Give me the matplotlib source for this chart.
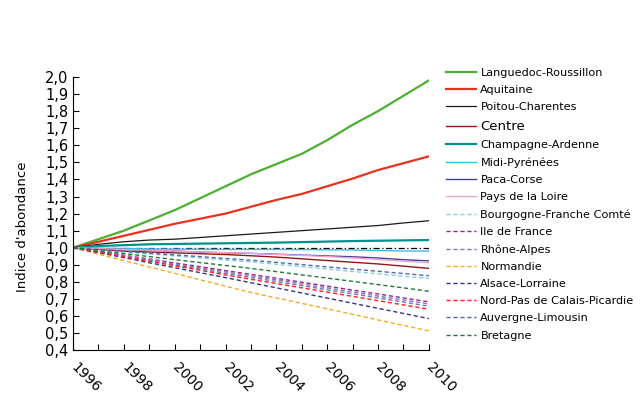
import matplotlib
matplotlib.use('Agg')
import matplotlib.pyplot as plt
import numpy as np

years = list(range(1996, 2011))

# series solides
languedoc = [1.00, 1.05, 1.10, 1.16, 1.22, 1.29, 1.36, 1.43, 1.49, 1.55, 1.63, 1.72, 1.80, 1.89, 1.98]
aquitaine = [1.00, 1.035, 1.07, 1.105, 1.14, 1.17, 1.20, 1.24, 1.28, 1.315, 1.36, 1.405, 1.455, 1.495, 1.535]
poitou = [1.00, 1.02, 1.035, 1.045, 1.05, 1.06, 1.07, 1.08, 1.09, 1.10, 1.11, 1.12, 1.13, 1.145, 1.158]
centre = [1.00, 0.99, 0.98, 0.975, 0.97, 0.965, 0.96, 0.953, 0.945, 0.935, 0.925, 0.915, 0.905, 0.892, 0.879]
champagne = [1.00, 1.01, 1.015, 1.02, 1.022, 1.024, 1.026, 1.028, 1.03, 1.033, 1.036, 1.039, 1.041, 1.043, 1.045]
midi_pyr = [1.00, 0.997, 0.995, 0.993, 0.992, 0.991, 0.99, 0.99, 0.99, 0.989, 0.988, 0.987, 0.984, 0.981, 0.98]
paca = [1.00, 0.995, 0.99, 0.985, 0.98, 0.975, 0.97, 0.967, 0.962, 0.957, 0.952, 0.947, 0.94, 0.93, 0.923]
loire = [1.00, 0.995, 0.99, 0.985, 0.98, 0.975, 0.971, 0.967, 0.961, 0.955, 0.948, 0.94, 0.931, 0.921, 0.912]
# series pointillees
bourgogne = [1.00, 0.988, 0.976, 0.964, 0.952, 0.94, 0.928, 0.917, 0.903, 0.889, 0.875, 0.861, 0.847, 0.833, 0.82]
idf = [1.00, 0.978, 0.956, 0.934, 0.911, 0.889, 0.866, 0.844, 0.821, 0.798, 0.775, 0.752, 0.729, 0.706, 0.683]
rhone = [1.00, 0.977, 0.954, 0.93, 0.906, 0.883, 0.859, 0.836, 0.812, 0.788, 0.765, 0.741, 0.717, 0.694, 0.67]
normandie = [1.00, 0.962, 0.925, 0.887, 0.85, 0.812, 0.775, 0.738, 0.706, 0.674, 0.642, 0.61, 0.577, 0.545, 0.513]
alsace = [1.00, 0.971, 0.942, 0.912, 0.883, 0.854, 0.825, 0.795, 0.765, 0.735, 0.705, 0.675, 0.645, 0.615, 0.585]
nord = [1.00, 0.974, 0.947, 0.92, 0.894, 0.868, 0.841, 0.815, 0.79, 0.765, 0.74, 0.715, 0.69, 0.665, 0.64]
auvergne = [1.00, 0.99, 0.979, 0.968, 0.958, 0.948, 0.937, 0.927, 0.914, 0.901, 0.888, 0.875, 0.862, 0.849, 0.836]
bretagne = [1.00, 0.983, 0.966, 0.948, 0.93, 0.913, 0.896, 0.879, 0.86, 0.841, 0.822, 0.803, 0.784, 0.765, 0.745]
autre = [1.00, 0.975, 0.95, 0.925, 0.9, 0.875, 0.85, 0.826, 0.802, 0.778, 0.754, 0.73, 0.706, 0.682, 0.657]
reference = 1.0

series = [
  ('Languedoc-Roussillon', languedoc, '#4caf32', '-', 1.6),
  ('Aquitaine', aquitaine, '#e8321e', '-', 1.6),
  ('Poitou-Charentes', poitou, '#1a1a1a', '-', 0.9),
  ('Centre', centre, '#8b1a1a', '-', 1.0),
  ('Champagne-Ardenne', champagne, '#00928c', '-', 1.6),
  ('Midi-Pyrénées', midi_pyr, '#3dbbec', '-', 1.0),
  ('Paca-Corse', paca, '#40409c', '-', 1.0),
  ('Pays de la Loire', loire, '#f2a6c6', '-', 1.0),
  ('Bourgogne-Franche Comté', bourgogne, '#86cfe6', '--', 1.0),
  ('Ile de France', idf, '#a0208f', '--', 1.0),
  ('Rhône-Alpes', rhone, '#8e72c0', '--', 1.0),
  ('Normandie', normandie, '#f8a822', '--', 1.0),
  ('Alsace-Lorraine', alsace, '#34348c', '--', 1.0),
  ('Nord-Pas de Calais-Picardie', nord, '#ff2020', '--', 1.0),
  ('Auvergne-Limousin', auvergne, '#5068b4', '--', 1.0),
  ('Bretagne', bretagne, '#1e7b34', '--', 1.0),
]

fig = plt.figure(figsize=(6.41, 3.97), dpi=100)
ax = fig.add_axes([0.114, 0.118, 0.555, 0.688])

ax.axhline(reference, color='black', linestyle=(0, (5, 2, 1, 2)), linewidth=0.9)
ax.plot(years, autre, color='#6a78b0', linestyle=(0, (3, 2)), linewidth=1.0)
for name, vals, col, ls, lw in series:
  if ls == '--':
    ls = (0, (3, 2))
  ax.plot(years, vals, color=col, linestyle=ls, linewidth=lw, label=name)

ax.set_xlim(1996, 2010)
ax.set_ylim(0.4, 2.0)
ax.set_xticks(range(1996, 2011, 2))
ax.set_xticks(years, minor=True)
ax.set_yticks(np.arange(0.4, 2.01, 0.1))
ax.set_yticklabels([('%.1f' % v).replace('.', ',') for v in np.arange(0.4, 2.01, 0.1)], fontsize=10.5)
for lab in ax.get_xticklabels():
  lab.set_rotation(-45)
  lab.set_ha('left')
  lab.set_va('center')
  lab.set_rotation_mode('anchor')
  lab.set_fontsize(10)
ax.tick_params(axis='both', which='both', direction='in', length=4, width=0.8)
ax.tick_params(axis='x', which='major', pad=11)
ax.spines['top'].set_visible(False)
ax.spines['right'].set_visible(False)
ax.set_ylabel("Indice d'abondance", fontsize=9.5)
ax.yaxis.set_label_coords(-0.125, 0.45)

leg = ax.legend(loc='upper left', bbox_to_anchor=(0.688, 0.84), bbox_transform=fig.transFigure,
                frameon=False, fontsize=8.1, handlelength=2.7, handletextpad=0.4,
                labelspacing=0.64, borderaxespad=0)
leg.get_texts()[3].set_fontsize(9.5)

plt.savefig('out.png', dpi=100)
